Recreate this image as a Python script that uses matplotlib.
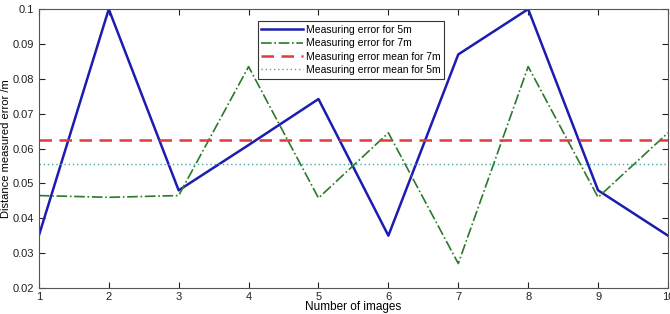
import matplotlib.pyplot as plt
import numpy as np

images = [1, 2, 3, 4, 5, 6, 7, 8, 9, 10]
err_5m = [0.035, 0.100, 0.048, 0.061, 0.0742, 0.035, 0.087, 0.100, 0.048, 0.035]
err_7m = [0.0465, 0.046, 0.0465, 0.0835, 0.0458, 0.0645, 0.027, 0.0835, 0.0460, 0.0645]
mean_7m = 0.0625
mean_5m = 0.0556

plt.rcParams['font.family'] = ['Liberation Sans', 'DejaVu Sans']

fig = plt.figure(figsize=(6.7, 3.14), dpi=100)
ax = fig.add_axes([0.058, 0.083, 0.939, 0.888])

ax.plot(images, err_5m, color="#1c1cb0", lw=1.8, label="Measuring error for 5m")
ax.plot(images, err_7m, color="#2a7a2a", lw=1.2, ls="-.", label="Measuring error for 7m")
ax.axhline(mean_7m, color="#e03a3a", lw=1.8, ls=(0, (5, 3)), label="Measuring error mean for 7m")
ax.axhline(mean_5m, color="#4aa8a8", lw=1.0, ls=(0, (1, 2)), label="Measuring error mean for 5m")

ax.set_xlim(1, 10)
ax.set_ylim(0.02, 0.1)
ax.set_xticks(images)
ax.set_yticks(np.arange(0.02, 0.1001, 0.01))
ax.set_yticklabels(["0.02", "0.03", "0.04", "0.05", "0.06", "0.07", "0.08", "0.09", "0.1"])
ax.tick_params(direction="in", top=True, right=True, labelsize=8, length=4, colors="#222222")
ax.tick_params(axis="x", pad=3)
for s in ax.spines.values():
    s.set_color("#555555")
    s.set_linewidth(0.8)

ax.set_xlabel("Number of images", fontsize=8.5, va="center")
ax.xaxis.set_label_coords(0.5, -0.07)
ax.set_ylabel("Distance measured error /m", fontsize=8, va="center")
ax.yaxis.set_label_coords(-0.053, 0.5)

leg = ax.legend(loc="upper center", bbox_to_anchor=(0.496, 0.975), fontsize=7.5,
                frameon=True, fancybox=False, edgecolor="black", handlelength=4,
                borderpad=0.35, labelspacing=0.32, handletextpad=0.3)
leg.get_frame().set_linewidth(0.8)

fig.savefig("out.png", dpi=100)
